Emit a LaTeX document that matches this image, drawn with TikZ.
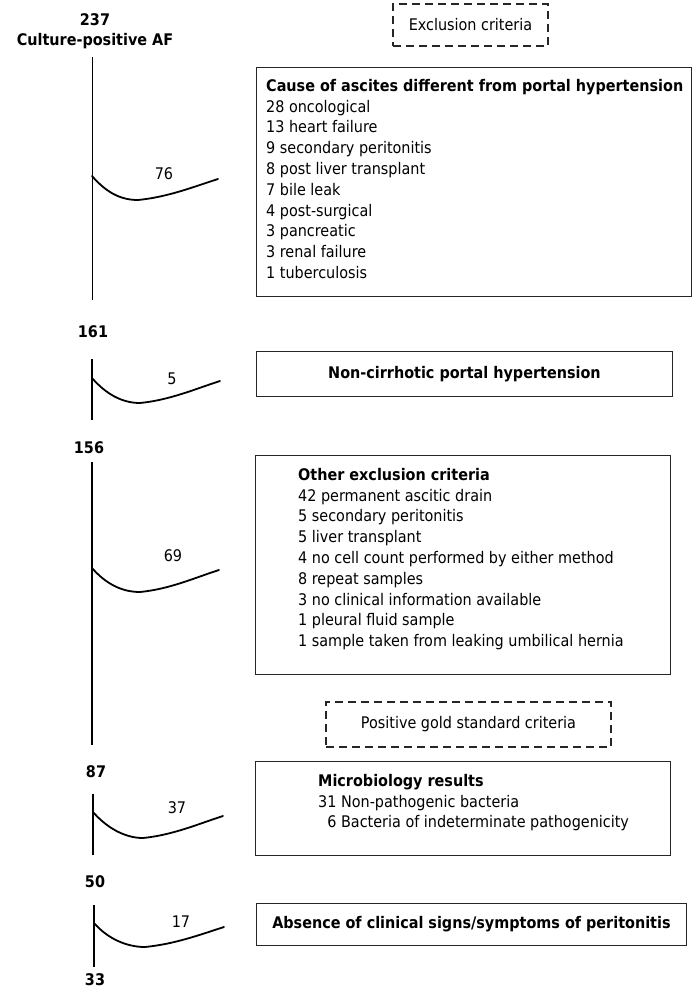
\documentclass[tikz,border=0pt]{standalone}
\usepackage{fontspec}
\setmainfont{DejaVu Sans Condensed}
\usetikzlibrary{positioning}

\begin{document}
\begin{tikzpicture}
      [x=1pt,y=-1pt,
       countLabel/.style={font=\bfseries\fontsize{16}{19}\selectfont,inner sep=0pt},
       numLabel/.style={font=\fontsize{16}{18}\selectfont,inner sep=0pt},
       listBox/.style={rectangle,draw=black!85,line width=0.9pt,anchor=north west},
       dashBox/.style={rectangle,draw=black!85,line width=2pt,dash pattern=on 8pt off 5pt,
         font=\fontsize{16}{18}\selectfont,anchor=north west},
       listText/.style={font=\fontsize{16}{20.8}\selectfont,align=left,inner sep=0pt,anchor=north west},
       trunk/.style={line width=1.8pt},
       swoosh/.style={line width=1.8pt,line cap=round}]
      \useasboundingbox (0,0) rectangle (692,989);
      % counts down the left side
      \node[countLabel] (n237) at (95,20) {237};
      \node[countLabel] (culture) at (95,41) {Culture-positive AF};
      \node[countLabel] (n161) at (93,332) {161};
      \node[countLabel] (n156) at (89,448) {156};
      \node[countLabel] (n87) at (96,772) {87};
      \node[countLabel] (n50) at (95,882) {50};
      \node[countLabel] (n33) at (95,980) {33};
      % trunk lines
      \coordinate (top1) at (92,57);   \coordinate (bot1) at (92,300);
      \coordinate (top2) at (92,359);  \coordinate (bot2) at (92,420);
      \coordinate (top3) at (92,462);  \coordinate (bot3) at (92,745);
      \coordinate (top4) at (93,794);  \coordinate (bot4) at (93,855);
      \coordinate (top5) at (94,905);  \coordinate (bot5) at (94,967);
      \draw[line width=0.9pt] (top1) -- (bot1);
      \draw[trunk] (top2) -- (bot2);
      \draw[trunk] (top3) -- (bot3);
      \draw[trunk] (top4) -- (bot4);
      \draw[trunk] (top5) -- (bot5);
      % exclusion swooshes
      \coordinate (s76) at (92,176);
      \coordinate (s5) at (92,378);
      \coordinate (s69) at (92,568);
      \coordinate (s37) at (93,812);
      \coordinate (s17) at (94,923);
      \draw[swoosh] (s76) .. controls +(14,16) and +(-18,0) .. ++(46,24) .. controls +(30,-3) and +(-25,8) .. ++(80,-21);
      \draw[swoosh] (s5) .. controls +(14,16) and +(-18,0) .. ++(48,25) .. controls +(30,-3) and +(-25,8) .. ++(80,-22);
      \draw[swoosh] (s69) .. controls +(14,16) and +(-18,0) .. ++(48,24) .. controls +(30,-3) and +(-25,8) .. ++(79,-22);
      \draw[swoosh] (s37) .. controls +(14,16) and +(-18,0) .. ++(50,26) .. controls +(30,-3) and +(-25,8) .. ++(80,-22);
      \draw[swoosh] (s17) .. controls +(14,16) and +(-18,0) .. ++(51,24) .. controls +(30,-3) and +(-25,8) .. ++(79,-20);
      \node[numLabel] (x76) at (164,174) {76};
      \node[numLabel] (x5) at (172,379) {5};
      \node[numLabel] (x69) at (173,556) {69};
      \node[numLabel] (x37) at (177,808) {37};
      \node[numLabel] (x17) at (181,922) {17};
      % boxes on the right
      \node[dashBox,minimum width=155pt,minimum height=42pt] (exclusion) at (392,3) {Exclusion criteria};
      \node[listBox,minimum width=435pt,minimum height=229pt] (causeBox) at (256,67) {};
      \node[listText] (causeText) at ([shift={(10pt,-12pt)}]causeBox.north west)
        {\textbf{Cause of ascites different from portal hypertension}\\
         28 oncological\\13 heart failure\\9 secondary peritonitis\\8 post liver transplant\\
         7 bile leak\\4 post-surgical\\3 pancreatic\\3 renal failure\\1 tuberculosis};
      \node[listBox,minimum width=416pt,minimum height=45pt,font=\bfseries\fontsize{16}{18}\selectfont]
        (portalBox) at (256,351) {Non-cirrhotic portal hypertension};
      \node[listBox,minimum width=415pt,minimum height=219pt] (otherBox) at (255,455) {};
      \node[listText] (otherText) at ([shift={(43pt,-13pt)}]otherBox.north west)
        {\textbf{Other exclusion criteria}\\
         42 permanent ascitic drain\\5 secondary peritonitis\\5 liver transplant\\
         4 no cell count performed by either method\\8 repeat samples\\
         3 no clinical information available\\1 pleural fluid sample\\
         1 sample taken from leaking umbilical hernia};
      \node[dashBox,minimum width=285pt,minimum height=45pt] (goldStd) at (325,701) {Positive gold standard criteria};
      \node[listBox,minimum width=415pt,minimum height=94pt] (microBox) at (255,761) {};
      \node[listText] (microText) at ([shift={(63pt,-13pt)}]microBox.north west)
        {\textbf{Microbiology results}\\
         31 Non-pathogenic bacteria\\
         \phantom{3}6 Bacteria of indeterminate pathogenicity};
      \node[listBox,minimum width=430pt,minimum height=42pt,font=\bfseries\fontsize{16}{18}\selectfont]
        (absenceBox) at (256,903) {Absence of clinical signs/symptoms of peritonitis};
    \end{tikzpicture}
\end{document}
